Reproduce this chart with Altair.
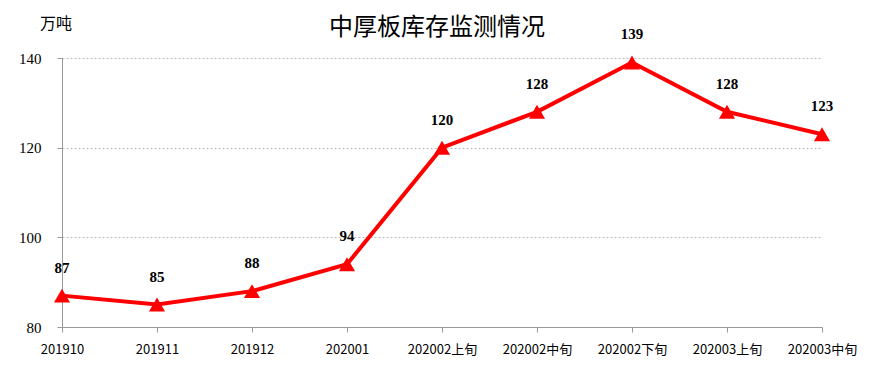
import altair as alt
import pandas as pd

categories = ["201910", "201911", "201912", "202001", "202002上旬", "202002中旬",
              "202002下旬", "202003上旬", "202003中旬"]
values = [87, 85, 88, 94, 120, 128, 139, 128, 123]

df = pd.DataFrame({"period": categories, "value": values})

font = "Noto Sans CJK SC"

x = alt.X("period:N", sort=categories, title=None,
          scale=alt.Scale(type="point", padding=0),
          axis=alt.Axis(labelAngle=0, labelFont=font, labelFontSize=13, labelColor="#000",
                        domainColor="#999", tickColor="#999", tickSize=5, labelPadding=11,
                        grid=False))
y = alt.Y("value:Q", title=None,
          scale=alt.Scale(domain=[80, 140], nice=False, zero=False),
          axis=alt.Axis(values=[80, 100, 120, 140], labelFont="Liberation Serif",
                        labelFontSize=15, labelColor="#000", domainColor="#999",
                        tickColor="#999", tickSize=5, labelPadding=16,
                        gridColor="#bbb", gridDash=[2, 2], grid=True))

base = alt.Chart(df).encode(x=x, y=y)

line = base.mark_line(color="#ff0000", strokeWidth=4, clip=False)
pts = base.mark_point(shape="triangle-up", filled=True, color="#ff0000", size=260,
                      opacity=1, clip=False)
labels = base.mark_text(dy=-28, fontSize=15, fontWeight="bold", font="Liberation Serif",
                        color="#000").encode(text="value:Q")

title_txt = alt.Chart(pd.DataFrame({"t": ["中厚板库存监测情况"]})).mark_text(
    font=font, fontSize=24, color="#000", align="center", baseline="middle").encode(
    x=alt.value(375), y=alt.value(-30), text="t:N")
unit_txt = alt.Chart(pd.DataFrame({"t": ["万吨"]})).mark_text(
    font=font, fontSize=16, color="#000", align="left", baseline="middle").encode(
    x=alt.value(-22), y=alt.value(-34), text="t:N")

chart = alt.layer(line, pts, labels, title_txt, unit_txt).properties(
    width=760, height=269,
    autosize=alt.AutoSizeParams(type="none"),
    padding={"left": 54, "top": 50, "right": 47, "bottom": 30},
).configure_view(stroke=None)

chart.save("out.html", embed_options={"renderer": "svg", "actions": False})
